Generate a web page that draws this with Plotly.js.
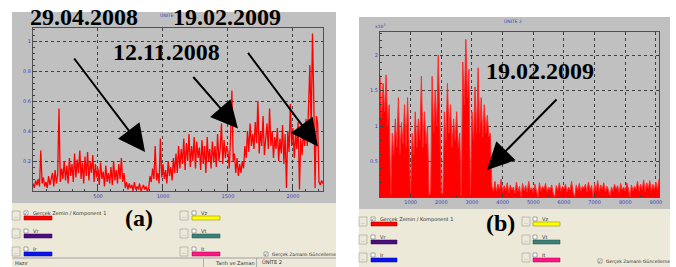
<!DOCTYPE html>
<html><head><meta charset="utf-8">
<script src="https://cdn.plot.ly/plotly-3.0.1.min.js"></script>
<style>html,body{margin:0;padding:0;background:#fff;overflow:hidden}</style>
</head><body><div id="chart" style="width:676px;height:267px"></div>
<script>
// ---------- DATA ----------
const leftX0 = 0, leftDx = 10;
const leftValues = [
0.05,0.02,0.07,0.04,0.08,0.03,0.27,0.05,0.09,0.03,
0.06,0.02,0.10,0.04,0.08,0.12,0.03,0.14,0.05,0.11,
0.55,0.06,0.15,0.08,0.20,0.07,0.17,0.05,0.22,0.10,
0.18,0.06,0.25,0.09,0.21,0.12,0.27,0.08,0.19,0.05,
0.23,0.10,0.26,0.07,0.20,0.12,0.24,0.06,0.18,0.09,
0.15,0.04,0.19,0.08,0.13,0.03,0.17,0.06,0.12,0.05,
0.16,0.04,0.20,0.07,0.14,0.05,0.18,0.08,0.22,0.06,
0.12,0.02,0.06,0.01,0.05,0.02,0.04,0.00,0.06,0.01,
0.03,0.01,0.05,0.00,0.02,0.04,0.01,0.03,0.00,0.02,
0.10,0.06,0.15,0.08,0.30,0.07,0.12,0.05,0.35,0.09,
0.18,0.08,0.14,0.05,0.20,0.10,0.16,0.07,0.22,0.12,
0.25,0.12,0.30,0.15,0.28,0.18,0.35,0.14,0.32,0.20,
0.38,0.16,0.30,0.20,0.36,0.15,0.33,0.22,0.29,0.14,
0.34,0.18,0.30,0.12,0.36,0.20,0.28,0.15,0.33,0.19,
0.30,0.16,0.38,0.20,0.28,0.45,0.18,0.34,0.22,0.30,
0.26,0.15,0.36,0.67,0.20,0.25,0.12,0.22,0.10,0.18,
0.12,0.20,0.15,0.30,0.22,0.40,0.26,0.45,0.30,0.38,
0.28,0.46,0.32,0.60,0.25,0.40,0.30,0.50,0.24,0.38,
0.45,0.28,0.55,0.30,0.40,0.22,0.36,0.28,0.42,0.20,
0.35,0.25,0.44,0.18,0.38,0.02,0.40,0.26,0.58,0.30,
0.42,0.22,0.38,0.28,0.46,0.01,0.35,0.24,0.40,0.30,
0.48,0.30,0.55,0.84,0.40,1.05,0.62,0.02,0.50,0.45,
0.06,0.04,0.07,0.05
];
const rightX0 = 0, rightDx = 50;
const rightValues = [
1.72,1.1,1.6,1.2,1.72,1.0,1.3,0.03,
0.9,0.6,1.1,0.7,1.4,0.6,1.05,0.75,1.3,0.7,1.4,0.8,
0.02,
0.9,0.6,1.2,0.7,1.1,0.8,1.7,0.7,1.2,0.75,1.0,
0.03,0.05,
1.7,0.9,1.5,1.0,2.0,1.1,
0.02,0.05,
1.2,0.8,1.6,0.9,1.3,0.7,1.1,0.8,1.2,0.7,0.9,
0.02,
1.9,1.3,2.22,1.4,1.8,
0.02,
1.2,0.8,1.55,0.9,1.82,0.9,1.4,0.85,1.3,0.9,1.15,0.85,0.9,
0.15,0.08,
0.22,0.08,0.18,0.10,0.25,0.07,0.16,0.09,0.20,0.06,
0.17,0.10,0.14,0.05,0.21,0.08,0.15,0.0,0.19,0.09,
0.16,0.07,0.22,0.10,0.13,0.06,0.18,0.09,0.0,0.20,
0.08,0.15,0.11,0.19,0.07,0.14,0.10,0.17,0.05,0.0,
0.16,0.09,0.20,0.08,0.15,0.11,0.18,0.07,0.14,0.10,
0.22,0.06,0.0,0.17,0.09,0.19,0.08,0.15,0.12,0.18,
0.07,0.21,0.10,0.16,0.0,0.19,0.09,0.23,0.08,0.17,
0.11,0.20,0.07,0.15,0.10,0.0,0.14,0.08,0.18,0.11,
0.16,0.06,0.19,0.10,0.14,0.08,0.20,0.12,0.0,0.17,
0.09,0.15,0.11,0.22,0.08,0.18,0.10,0.24,0.07,0.20,
0.12,0.23,0.09,0.18,0.11,0.21,0.10,0.25
];
const leftXTicks = [500,1000,1500,2000];
const leftYTicks = [0.2,0.4,0.6,0.8,1];
const rightXTicks = [1000,2000,3000,4000,5000,6000,7000,8000,9000];
const rightYTicks = [0.5,1,1.5,2];
const dateLabels = ["29.04.2008","19.02.2009","12.11.2008","19.02.2009"];
const panelLabels = ["(a)","(b)"];
const seriesNames = ["Gerçek Zemin / Komponent 1","Vr","Ir","Vz","Vt","It"];
const seriesColors = ["#ff0000","#4a0e80","#0a14f0","#ffff00","#3c8078","#ff1585"];
const seriesBorders = ["#a00000","#300050","#000090","#808000","#205048","#a00050"];
const seriesChecked = [true,false,false,false,false,false];
const unitTitle = "ÜNİTE 2";
const realtimeLabel = "Gerçek Zamanlı Güncelleme";
const statusTexts = ["Hazır","Tarih ve Zaman","ÜNİTE 2"];

// ---------- LAYOUT HELPERS ----------
const W=676,H=267;
const PX=v=>v/W, PY=v=>1-v/H;
const shapes=[], ann=[];
function rect(x0,y0,x1,y1,fill,line,lw){
  shapes.push({type:'rect',xref:'paper',yref:'paper',x0:PX(x0),x1:PX(x1),y0:PY(y1),y1:PY(y0),
    fillcolor:fill,line:{color:line||fill,width:lw||0},layer:'below'});
}
function txt(x,y,t,o){
  o=o||{};
  ann.push({xref:'paper',yref:'paper',x:PX(x),y:PY(y),text:t,showarrow:false,
    xanchor:o.xa||'left',yanchor:'middle',
    font:{family:o.family||'DejaVu Sans',size:o.size||5,color:o.color||'#202020'}});
}
const uiFont='DejaVu Sans';
// gray chart panels and beige control panels
rect(12,12,336,203,'#c0c0c0');
rect(12,203,336,267,'#ece9d8');
rect(359,17,670,209,'#c0c0c0');
rect(359,209,670,267,'#ece9d8');

function checkbox(x,y,checked){
  rect(x,y,x+4,y+4,'#ffffff','#707070',0.6);
  if(checked) txt(x+2,y+2,'✓',{xa:'center',size:4.5,color:'#000'});
}
function legendBlock(cols,rowsY){
  let k=0;
  cols.forEach(c=>{
    rowsY.forEach(ry=>{
      rect(c.btn,ry,c.btn+8,ry+9,'#ece9d8','#a0a0a0',0.6);
      txt(c.btn+4,ry+5,'...',{xa:'center',size:4,color:'#606060'});
      checkbox(c.cb,ry,seriesChecked[k]);
      txt(c.cb+7,ry+2,seriesNames[k],{size:5,color:'#303030'});
      rect(c.cb,ry+5,c.cb+(c.w||28),ry+9,seriesColors[k],seriesBorders[k],0.5);
      k++;
    });
  });
}
legendBlock([{btn:12,cb:24,w:28},{btn:180,cb:192,w:28}],[211,229,247]);
legendBlock([{btn:359,cb:371,w:26},{btn:522,cb:533,w:27}],[217,235,253]);
// realtime update checkboxes
checkbox(264,252,true); txt(270,254,realtimeLabel,{size:4.5,color:'#303030'});
checkbox(598,259,true); txt(604,261,realtimeLabel,{size:4.5,color:'#303030'});
// status bar of (a)
rect(12,257.5,336,258.5,'#a0a0a0');
rect(203,258,203.8,267,'#a0a0a0');
rect(256,258,256.8,267,'#a0a0a0');
txt(13,263,statusTexts[0],{size:5,color:'#303030'});
txt(235,263,statusTexts[1],{xa:'center',size:5,color:'#303030'});
txt(260,262,statusTexts[2],{size:5,color:'#303030'});
// small chart titles
txt(167,15,'ÜNİTE',{xa:'center',size:4.5,color:'#3a3ab8'});
txt(513,21,unitTitle,{xa:'center',size:4.5,color:'#3a3ab8'});
txt(380,26,'x10<sup>3</sup>',{xa:'center',size:4.5,color:'#3a3ab8'});
// big date labels
const big={family:'Liberation Serif',size:24,color:'#000',xa:'center'};
txt(84,17,'<b>'+dateLabels[0]+'</b>',big);
txt(227,17,'<b>'+dateLabels[1]+'</b>',big);
txt(166,52,'<b>'+dateLabels[2]+'</b>',big);
txt(540,71,'<b>'+dateLabels[3]+'</b>',big);
txt(139,218,'<b>'+panelLabels[0]+'</b>',big);
txt(501,223,'<b>'+panelLabels[1]+'</b>',big);
// arrows (tip in data coords, tail offset in px)
function arrow(xr,yr,x,y,ax,ay){
  ann.push({xref:xr,yref:yr,x:x,y:y,ax:ax,ay:ay,text:'',showarrow:true,
    arrowhead:2,arrowsize:2.7,arrowwidth:2,arrowcolor:'#000',standoff:0});
}
arrow('x','y',862,0.26,-72,-95);
arrow('x','y',1577,0.417,-46,-53);
arrow('x','y',2192,0.297,-71,-95);
arrow('x2','y2',3490,0.38,71,-72);

const axCommon={ticks:'inside',ticklen:4,tickcolor:'#404040',tickwidth:1,
  showgrid:true,gridcolor:'#404040',griddash:'dot',gridwidth:1,
  showline:true,linecolor:'#505050',linewidth:1,mirror:true,zeroline:false,
  tickfont:{family:uiFont,size:5,color:'#4040b8'},fixedrange:true};

const data=[
  {type:'scatter',mode:'lines',x0:leftX0,dx:leftDx,y:leftValues,xaxis:'x',yaxis:'y',
   line:{color:'#ff0000',width:1.3},hoverinfo:'skip'},
  {type:'scatter',mode:'lines',x0:rightX0,dx:rightDx,y:rightValues,xaxis:'x2',yaxis:'y2',
   fill:'tozeroy',fillcolor:'#ff0000',line:{color:'#ff2a2a',width:1},hoverinfo:'skip'}
];
const layout={
  width:W,height:H,margin:{l:0,r:0,t:0,b:0},showlegend:false,
  paper_bgcolor:'#ffffff',plot_bgcolor:'rgba(0,0,0,0)',
  xaxis:Object.assign({},axCommon,{domain:[33/W,323/W],range:[0,2231],anchor:'y',tickvals:leftXTicks,
    minor:{ticks:'inside',ticklen:2,dtick:100,tickcolor:'#404040',showgrid:false}}),
  yaxis:Object.assign({},axCommon,{domain:[1-191/H,1-28/H],range:[0,1.087],anchor:'x',tickvals:leftYTicks,
    minor:{ticks:'inside',ticklen:2,dtick:0.04,tickcolor:'#404040',showgrid:false}}),
  xaxis2:Object.assign({},axCommon,{domain:[380/W,659/W],range:[0,9100],anchor:'y2',tickvals:rightXTicks,
    minor:{ticks:'inside',ticklen:2,dtick:500,tickcolor:'#404040',showgrid:false}}),
  yaxis2:Object.assign({},axCommon,{domain:[1-197/H,1-32/H],range:[0,2.324],anchor:'x2',tickvals:rightYTicks,
    minor:{ticks:'inside',ticklen:2,dtick:0.1,tickcolor:'#404040',showgrid:false}}),
  shapes:shapes,annotations:ann
};
Plotly.newPlot('chart',data,layout,{displayModeBar:false,staticPlot:true});
</script></body></html>
